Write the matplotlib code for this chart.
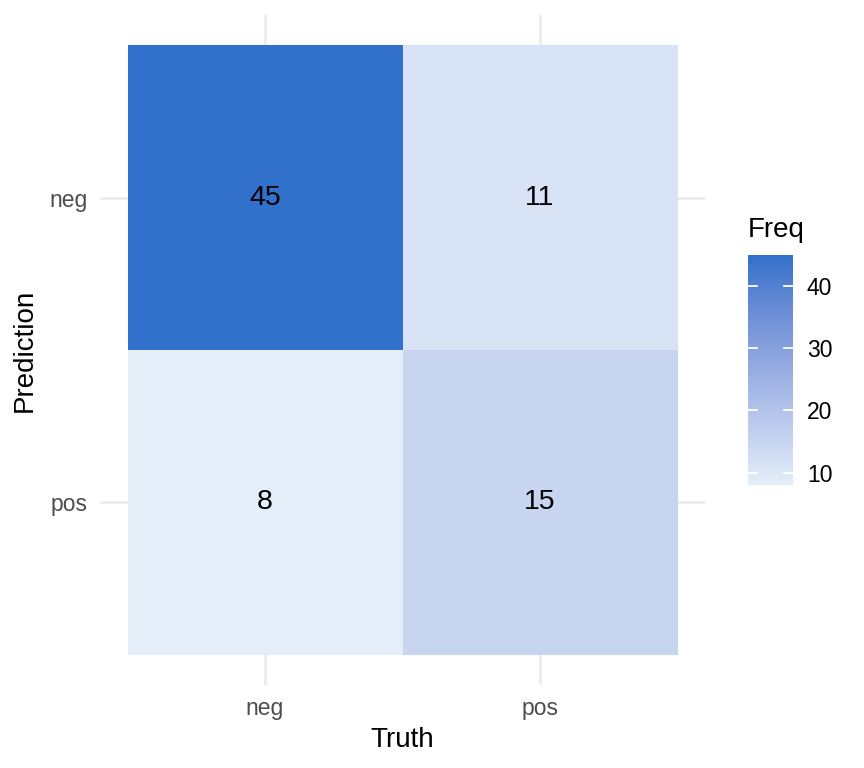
import numpy as np
import matplotlib
matplotlib.use("Agg")
import matplotlib.pyplot as plt
from matplotlib.colors import ListedColormap, Normalize, to_rgb

plt.rcParams['font.family'] = ['Liberation Sans', 'DejaVu Sans']

# ---- data ----
truth_levels = ["neg", "pos"]
pred_levels = ["neg", "pos"]
freq = [[45, 11],   # Prediction = neg ; Truth = neg, pos
        [8, 15]]    # Prediction = pos ; Truth = neg, pos
cbar_ticks = [10, 20, 30, 40]

low_col = "#E4EEF9"
high_col = "#3171CB"

# ---- Lab interpolation (like ggplot's scale_fill_gradient) ----
def srgb_to_lab(rgb):
    rgb = np.asarray(rgb, float)
    lin = np.where(rgb <= 0.04045, rgb / 12.92, ((rgb + 0.055) / 1.055) ** 2.4)
    M = np.array([[0.4124, 0.3576, 0.1805], [0.2126, 0.7152, 0.0722], [0.0193, 0.1192, 0.9505]])
    xyz = M @ lin
    xyz = xyz / np.array([0.95047, 1.0, 1.08883])
    f = np.where(xyz > 0.008856, np.cbrt(xyz), 7.787 * xyz + 16 / 116)
    return np.array([116 * f[1] - 16, 500 * (f[0] - f[1]), 200 * (f[1] - f[2])])

def lab_to_srgb(lab):
    L, a, b = lab
    fy = (L + 16) / 116
    fx = fy + a / 500
    fz = fy - b / 200
    f = np.array([fx, fy, fz])
    xyz = np.where(f ** 3 > 0.008856, f ** 3, (f - 16 / 116) / 7.787)
    xyz = xyz * np.array([0.95047, 1.0, 1.08883])
    Minv = np.array([[3.2406, -1.5372, -0.4986], [-0.9689, 1.8758, 0.0415], [0.0557, -0.2040, 1.0570]])
    lin = Minv @ xyz
    rgb = np.where(lin <= 0.0031308, 12.92 * lin, 1.055 * np.clip(lin, 0, None) ** (1 / 2.4) - 0.055)
    return np.clip(rgb, 0, 1)

lab_lo = srgb_to_lab(to_rgb(low_col))
lab_hi = srgb_to_lab(to_rgb(high_col))
cols = [lab_to_srgb(lab_lo + t * (lab_hi - lab_lo)) for t in np.linspace(0, 1, 256)]
cmap = ListedColormap(cols)

vals = np.array(freq, float)
norm = Normalize(vmin=vals.min(), vmax=vals.max())

W, H = 864, 768
fig = plt.figure(figsize=(W / 100, H / 100), dpi=100)
ax = fig.add_axes([100 / W, 1 - 685 / H, 605 / W, 670 / H])

xs = np.arange(1, len(truth_levels) + 1)
ys = np.arange(len(pred_levels), 0, -1)  # neg on top

for x in xs:
    ax.axvline(x, color="#EBEBEB", lw=1.9, zorder=0)
for y in ys:
    ax.axhline(y, color="#EBEBEB", lw=1.9, zorder=0)

for i, p in enumerate(pred_levels):
    for j, t in enumerate(truth_levels):
        v = freq[i][j]
        ax.add_patch(plt.Rectangle((xs[j] - 0.5, ys[i] - 0.5), 1, 1,
                                   facecolor=cmap(norm(v)), edgecolor="none", zorder=1))
        ax.text(xs[j], ys[i], str(v), ha="center", va="center", fontsize=20.5,
                color="black", zorder=2)

ax.set_xlim(0.4, len(truth_levels) + 0.6)
ax.set_ylim(0.4, len(pred_levels) + 0.6)
ax.set_xticks(xs)
ax.set_xticklabels(truth_levels)
ax.set_yticks(ys)
ax.set_yticklabels(pred_levels)
ax.tick_params(length=0, labelsize=16.5, labelcolor="#4D4D4D")
ax.tick_params(axis="x", pad=9)
ax.tick_params(axis="y", pad=9)
for s in ax.spines.values():
    s.set_visible(False)
ax.set_xlabel("Truth", fontsize=20, labelpad=5)
ax.set_ylabel("Prediction", fontsize=20, labelpad=8)

# ---- colourbar ----
cax = fig.add_axes([748 / W, 1 - 485 / H, 45 / W, 230 / H])
grad = np.linspace(norm.vmin, norm.vmax, 300).reshape(-1, 1)
cax.imshow(grad, cmap=cmap, norm=norm, aspect="auto", origin="lower",
           extent=[0, 1, norm.vmin, norm.vmax])
cax.set_xlim(0, 1)
cax.set_ylim(norm.vmin, norm.vmax)
for tv in cbar_ticks:
    cax.plot([0, 0.2], [tv, tv], color="white", lw=1.3)
    cax.plot([0.8, 1], [tv, tv], color="white", lw=1.3)
cax.set_xticks([])
cax.yaxis.tick_right()
cax.set_yticks(cbar_ticks)
cax.tick_params(length=0, labelsize=16.5, labelcolor="black", pad=10)
for s in cax.spines.values():
    s.set_visible(False)
fig.text(748 / W, 1 - 237 / H, "Freq", fontsize=20, ha="left", va="baseline")

fig.savefig("out.png", dpi=100, facecolor="white")
